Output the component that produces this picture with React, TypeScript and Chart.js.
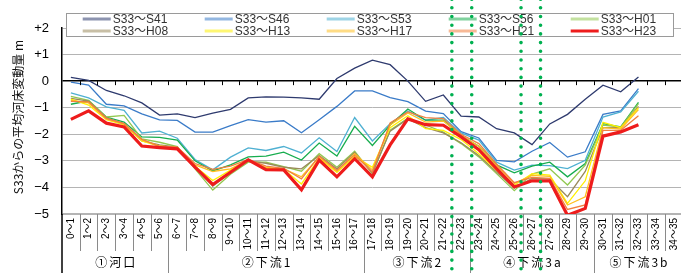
import React, { useEffect, useRef } from "react";
import { Chart, registerables } from "chart.js";

Chart.register(...registerables);

const categories = [
  "0～1","1～2","2～3","3～4","4～5","5～6","6～7","7～8","8～9","9～10",
  "10～11","11～12","12～13","13～14","14～15","15～16","16～17","17～18","18～19","19～20",
  "20～21","21～22","22～23","23～24","24～25","25～26","26～27","27～28","28～29","29～30",
  "30～31","31～32","32～33","33～34","34～35",
];

const seriesNames = [
  "S33～S41","S33～S46","S33～S53","S33～S56","S33～H01",
  "S33～H08","S33～H13","S33～H17","S33～H21","S33～H23",
];

const s41 = [0.14,0.03,-0.35,-0.55,-0.82,-1.28,-1.23,-1.37,-1.2,-1.06,-0.63,-0.59,-0.6,-0.63,-0.68,0.1,0.49,0.79,0.62,0.0,-0.76,-0.52,-1.32,-1.35,-1.79,-1.95,-2.39,-1.61,-1.25,-0.68,-0.15,-0.4,0.16];
const s46 = [-0.04,-0.15,-0.87,-0.93,-1.23,-1.46,-1.48,-1.92,-1.92,-1.67,-1.45,-1.54,-1.49,-1.94,-1.45,-0.95,-0.37,-0.37,-0.62,-0.77,-1.13,-1.22,-1.9,-2.14,-2.98,-3.04,-2.64,-2.31,-2.86,-2.66,-1.25,-1.12,-0.28];
const s53 = [-0.44,-0.63,-0.97,-1.1,-1.95,-1.88,-2.15,-2.95,-3.34,-2.86,-2.51,-2.61,-2.46,-2.7,-2.13,-2.65,-1.37,-2.25,-1.6,-1.12,-1.47,-1.37,-1.95,-2.22,-3.05,-3.35,-3.16,-3.18,-3.29,-2.98,-1.35,-1.16,-0.38];
const s56 = [-0.87,-0.74,-1.35,-1.54,-2.1,-2.12,-2.22,-3.0,-3.38,-3.15,-2.85,-2.82,-2.67,-2.97,-2.33,-2.82,-1.7,-2.42,-1.65,-1.05,-1.47,-1.47,-2.05,-2.45,-3.15,-3.45,-3.2,-3.05,-3.6,-3.1,-1.6,-1.72,-0.8];
const h01 = [-0.57,-0.72,-1.35,-1.29,-2.17,-2.3,-2.46,-3.3,-4.1,-3.5,-3.05,-3.05,-3.22,-3.39,-2.73,-3.24,-2.64,-3.49,-1.85,-1.4,-1.65,-1.92,-2.35,-2.85,-3.48,-4.12,-3.5,-3.3,-3.91,-3.16,-1.65,-1.73,-0.85];
const h08 = [-0.65,-0.75,-1.38,-1.6,-2.25,-2.4,-2.48,-3.25,-3.95,-3.45,-3.0,-3.09,-3.24,-3.3,-2.8,-3.3,-2.68,-3.45,-1.88,-1.42,-1.75,-1.95,-2.32,-2.8,-3.42,-4.02,-3.66,-3.68,-4.35,-3.4,-1.75,-1.75,-0.95];
const h13 = [-0.68,-0.9,-1.45,-1.65,-2.25,-2.45,-2.5,-3.2,-3.74,-3.35,-3.0,-3.28,-3.32,-3.87,-2.9,-3.43,-2.84,-3.24,-1.75,-1.3,-1.79,-1.85,-2.2,-2.73,-3.35,-3.92,-3.48,-3.54,-4.6,-3.75,-1.55,-1.75,-1.0];
const h17 = [-0.72,-0.82,-1.42,-1.62,-2.2,-2.45,-2.5,-3.15,-3.4,-3.3,-2.97,-3.25,-3.3,-3.6,-2.85,-3.4,-2.73,-3.34,-1.65,-1.2,-1.54,-1.5,-2.05,-2.45,-3.18,-3.85,-3.55,-3.58,-4.66,-4.35,-1.75,-1.8,-1.07];
const h21 = [-0.76,-0.78,-1.4,-1.6,-2.19,-2.45,-2.48,-3.1,-3.32,-3.2,-2.95,-3.2,-3.28,-3.68,-2.82,-3.35,-2.78,-3.42,-1.57,-1.16,-1.37,-1.41,-2.0,-2.35,-3.12,-3.82,-3.62,-3.66,-4.83,-4.66,-1.85,-1.85,-1.3];
const h23 = [-1.44,-1.12,-1.58,-1.72,-2.44,-2.5,-2.55,-3.24,-3.89,-3.43,-2.96,-3.33,-3.34,-4.09,-2.97,-3.6,-2.92,-3.6,-2.4,-1.42,-1.64,-1.66,-2.1,-2.58,-3.29,-3.98,-3.75,-3.75,-5.05,-4.79,-2.07,-1.91,-1.64];

const seriesValues = [s41, s46, s53, s56, h01, h08, h13, h17, h21, h23];
const seriesColors = [
  "#2e3a6e","#3a7bc8","#4fb0d2","#17ad4e","#92c850",
  "#9a8a5c","#fff000","#ffc020","#f08040","#ee1c1c",
];

const yTicks = [2, 1, 0, -1, -2, -3, -4, -5];
const yTickLabels = ["+2", "+1", "0", "−1", "−2", "−3", "−4", "−5"];

const groupLabels = ["①河口", "②下流1", "③下流2", "④下流3a", "⑤下流3b"];
const groupStarts = [0, 6, 17, 23, 30];

const dottedPositions = [21.48, 22.6, 25.38, 26.48];

const yTitle = "S33からの平均河床変動量 m";

const overlayPlugin = {
  id: "overlay",
  afterDraw(chart: any) {
    const ctx = chart.ctx;
    const xs = chart.scales.x;
    const ys = chart.scales.y;
    const area = chart.chartArea;
    const H = chart.height;
    const y0 = ys.getPixelForValue(0);
    ctx.save();

    // ticks on zero line
    ctx.strokeStyle = "#000";
    ctx.lineWidth = 1;
    for (let i = 1; i < categories.length; i++) {
      const bx = Math.round(xs.getPixelForValue(i - 0.5)) + 0.5;
      ctx.beginPath();
      ctx.moveTo(bx, y0);
      ctx.lineTo(bx, y0 + 4);
      ctx.stroke();
    }

    // separators below axis
    ctx.strokeStyle = "#8a8a8a";
    for (let i = 1; i < categories.length; i++) {
      const bx = Math.round(xs.getPixelForValue(i - 0.5)) + 0.5;
      const isGroup = groupStarts.indexOf(i) >= 0;
      ctx.beginPath();
      ctx.moveTo(bx, area.bottom);
      ctx.lineTo(bx, isGroup ? H : 251);
      ctx.stroke();
    }
    ctx.strokeStyle = "#000";
    ctx.lineWidth = 1.5;
    ctx.beginPath();
    ctx.moveTo(area.left, area.bottom);
    ctx.lineTo(area.left, H);
    ctx.stroke();

    // group labels
    ctx.fillStyle = "#000";
    ctx.font = "12px 'Noto Sans CJK JP', sans-serif";
    (ctx as any).letterSpacing = "2px";
    ctx.textAlign = "center";
    ctx.textBaseline = "middle";
    for (let g = 0; g < groupLabels.length; g++) {
      const s = groupStarts[g];
      const e = g + 1 < groupStarts.length ? groupStarts[g + 1] : categories.length;
      const cx = (xs.getPixelForValue(s - 0.5) + xs.getPixelForValue(e - 0.5)) / 2;
      ctx.fillText(groupLabels[g], cx + 1, 262);
    }
    (ctx as any).letterSpacing = "0px";

    // y title
    ctx.save();
    ctx.translate(18, 117);
    ctx.rotate(-Math.PI / 2);
    ctx.font = "12px 'Noto Sans CJK JP', sans-serif";
    ctx.fillStyle = "#111";
    ctx.textAlign = "center";
    ctx.textBaseline = "middle";
    ctx.fillText(yTitle, 0, 0);
    ctx.restore();

    // legend box
    const bx0 = 66, by0 = 13, bw = 607, bh = 23;
    ctx.fillStyle = "#fff";
    ctx.fillRect(bx0, by0, bw, bh);
    ctx.strokeStyle = "#9a9a9a";
    ctx.lineWidth = 1;
    ctx.strokeRect(bx0 + 0.5, by0 + 0.5, bw, bh);
    ctx.font = "12px 'Liberation Sans', 'Noto Sans CJK JP', sans-serif";
    ctx.textAlign = "left";
    ctx.textBaseline = "middle";
    chart.data.datasets.forEach((ds: any, k: number) => {
      const col = k % 5;
      const row = Math.floor(k / 5);
      const lx = 82.7 + 122 * col;
      const ly = row === 0 ? 19 : 31;
      ctx.save();
      ctx.globalAlpha = k === 9 ? 1 : 0.55;
      ctx.strokeStyle = ds.borderColor;
      ctx.lineWidth = 3;
      ctx.beginPath();
      ctx.moveTo(lx, ly);
      ctx.lineTo(lx + 28, ly);
      ctx.stroke();
      ctx.restore();
      ctx.fillStyle = "#333";
      ctx.fillText(ds.label, lx + 30, ly + 0.5);
    });

    // green dotted lines
    ctx.strokeStyle = "#00b050";
    ctx.lineWidth = 3.6;
    ctx.lineCap = "round";
    ctx.setLineDash([0, 8.7]);
    for (const p of dottedPositions) {
      const dx = xs.getPixelForValue(p);
      ctx.beginPath();
      ctx.moveTo(dx, 60 - 8.7 * 7);
      ctx.lineTo(dx, H + 5);
      ctx.stroke();
    }
    ctx.restore();
  },
};

export default function App() {
  const ref = useRef<HTMLCanvasElement | null>(null);
  useEffect(() => {
    if (!ref.current) return;
    const datasets = seriesNames.map((name, k) => ({
      label: name,
      data: seriesValues[k],
      borderColor: seriesColors[k],
      backgroundColor: seriesColors[k],
      borderWidth: k === 9 ? 3.2 : 1.3,
      pointRadius: 0,
      tension: 0,
      fill: false,
      order: 10 - k,
    }));
    const chart = new Chart(ref.current, {
      type: "line",
      data: { labels: categories, datasets },
      options: {
        animation: false,
        responsive: false,
        devicePixelRatio: 1,
        layout: { padding: { top: 28, right: 5, left: 0, bottom: 0 } },
        plugins: { legend: { display: false }, tooltip: { enabled: false } },
        scales: {
          x: {
            type: "category",
            offset: true,
            grid: { display: false, drawTicks: false },
            border: { display: false },
            ticks: {
              autoSkip: false,
              maxRotation: 90,
              minRotation: 90,
              padding: 4,
              color: "#000",
              font: { size: 10, family: "'Liberation Sans', 'Noto Sans CJK JP', sans-serif" },
            },
            afterFit: (s: any) => { s.height = 59; },
          },
          y: {
            min: -5,
            max: 2,
            afterBuildTicks: (s: any) => { s.ticks = yTicks.map((v) => ({ value: v })); },
            ticks: {
              padding: 13,
              color: "#000",
              font: { size: 13, family: "'Liberation Sans', sans-serif" },
              callback: (v: any) => {
                const i = yTicks.indexOf(Number(v));
                return i >= 0 ? yTickLabels[i] : "";
              },
            },
            grid: {
              drawTicks: false,
              color: (c: any) => (c.tick && c.tick.value === 0 ? "#000" : "#b4b4b4"),
              lineWidth: (c: any) => (c.tick && c.tick.value === 0 ? 1.5 : c.tick && c.tick.value === -5 ? 2 : 1),
            },
            border: { display: true, color: "#000", width: 1.5 },
            afterFit: (s: any) => { s.width = 62; },
          },
        },
      },
      plugins: [overlayPlugin],
    });
    return () => chart.destroy();
  }, []);
  return (
    <div style={{ position: "absolute", left: 0, top: 0, width: 681, height: 273, overflow: "hidden", background: "#fff" }}>
      <canvas ref={ref} width={690} height={273} style={{ width: 690, height: 273, display: "block" }} />
    </div>
  );
}
